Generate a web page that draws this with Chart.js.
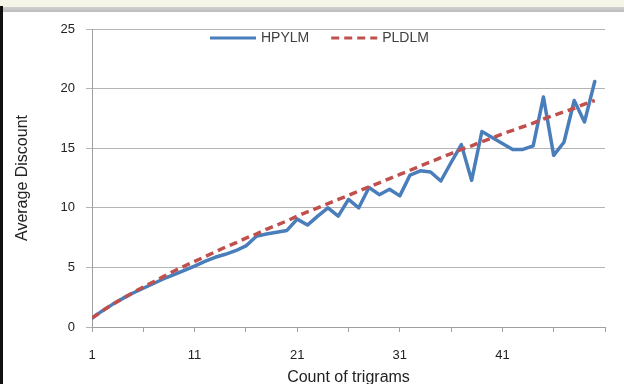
<!DOCTYPE html>
<html>
<head>
<meta charset="utf-8">
<script src="https://cdn.jsdelivr.net/npm/chart.js@4.4.1/dist/chart.umd.min.js"></script>
<style>
  html, body { margin: 0; padding: 0; background: #ffffff; }
  #wrap { position: relative; width: 624px; height: 384px; overflow: hidden; }
  #c { position: absolute; left: 0; top: 0; }
  #topband { position: absolute; left: 0; top: 0; width: 624px; height: 7px; background: #f6f6e8; }
  #topbar { position: absolute; left: 3px; top: 7px; width: 621px; height: 5px; background: linear-gradient(#d0d0d0, #bcbcbc); }
  #leftbar { position: absolute; left: 0; top: 6px; width: 3px; height: 378px; background: #111; }
</style>
</head>
<body>
<div id="wrap">
  <canvas id="c" width="624" height="384"></canvas>
  <div id="topband"></div>
  <div id="topbar"></div>
  <div id="leftbar"></div>
</div>
<script>
const categories = [1,2,3,4,5,6,7,8,9,10,11,12,13,14,15,16,17,18,19,20,21,22,23,24,25,26,27,28,29,30,31,32,33,34,35,36,37,38,39,40,41,42,43,44,45,46,47,48,49,50];
const hpylm = [0.75,1.35,1.9,2.4,2.85,3.25,3.65,4.05,4.4,4.75,5.1,5.5,5.85,6.1,6.4,6.8,7.6,7.8,7.95,8.1,9.05,8.55,9.3,10.0,9.3,10.7,10.0,11.7,11.1,11.55,11.0,12.75,13.1,13.0,12.25,13.8,15.3,12.3,16.4,15.9,15.4,14.9,14.9,15.2,19.3,14.4,15.5,19.0,17.2,20.6];
const pldlm = [0.75,1.35,1.9,2.4,2.9,3.35,3.8,4.25,4.7,5.1,5.5,5.9,6.3,6.7,7.05,7.45,7.8,8.2,8.55,8.9,9.3,9.65,10.0,10.35,10.7,11.05,11.4,11.75,12.1,12.45,12.8,13.15,13.5,13.85,14.2,14.55,14.9,15.2,15.55,15.85,16.2,16.5,16.8,17.1,17.45,17.75,18.05,18.35,18.7,19.0];
const seriesNames = ['HPYLM', 'PLDLM'];
const xTickMarks = [1,6,11,16,21,26,31,36,41,46,51];
const xTickLabels = ['1','11','21','31','41'];
const yTicks = [0,5,10,15,20,25];
const xTitle = 'Count of trigrams';
const yTitle = 'Average Discount';

Chart.defaults.font.family = "'Liberation Sans', Arial, sans-serif";
Chart.defaults.color = '#222';

const legendPlugin = {
  id: 'insideLegend',
  afterDraw(chart) {
    const ctx = chart.ctx;
    const y = 38;
    let x = 210;
    const sample = 46;
    ctx.save();
    ctx.font = "14px 'Liberation Sans', Arial, sans-serif";
    ctx.textBaseline = 'middle';
    ctx.textAlign = 'left';
    chart.data.datasets.forEach((ds) => {
      ctx.beginPath();
      ctx.strokeStyle = ds.borderColor;
      ctx.lineWidth = 3;
      ctx.setLineDash(ds.borderDash || []);
      ctx.lineCap = 'butt';
      ctx.moveTo(x, y);
      ctx.lineTo(x + sample, y);
      ctx.stroke();
      ctx.setLineDash([]);
      ctx.fillStyle = '#404040';
      ctx.fillText(ds.label, x + sample + 5, y);
      x += sample + 5 + ctx.measureText(ds.label).width + 22;
    });
    ctx.restore();
  }
};

new Chart(document.getElementById('c'), {
  type: 'line',
  data: {
    datasets: [
      {
        label: seriesNames[0],
        data: categories.map((c, i) => ({x: c, y: hpylm[i]})),
        borderColor: '#4a7ebb',
        backgroundColor: '#4a7ebb',
        borderWidth: 3.5,
        pointRadius: 0,
        tension: 0,
        order: 1,
        borderJoinStyle: 'round',
        borderCapStyle: 'round',
        fill: false
      },
      {
        label: seriesNames[1],
        data: categories.map((c, i) => ({x: c, y: pldlm[i]})),
        borderColor: '#c0504d',
        backgroundColor: '#c0504d',
        borderWidth: 3.5,
        borderDash: [8, 5],
        pointRadius: 0,
        tension: 0,
        order: 0,
        fill: false
      }
    ]
  },
  options: {
    responsive: false,
    animation: false,
    devicePixelRatio: 1,
    layout: { padding: { left: 0, top: 29, right: 19, bottom: 0 } },
    plugins: { legend: { display: false }, tooltip: { enabled: false } },
    scales: {
      x: {
        type: 'linear',
        min: 1,
        max: 51,
        afterBuildTicks: (axis) => { axis.ticks = xTickMarks.map(v => ({value: v})); },
        afterFit: (s) => { s.height = 57; },
        ticks: {
          autoSkip: false,
          maxRotation: 0,
          padding: 16,
          font: { size: 13 },
          color: '#222',
          callback: (v) => xTickLabels.includes(String(v)) ? String(v) : ''
        },
        grid: { drawOnChartArea: false, drawTicks: true, tickLength: 5, color: '#a0a0a0' },
        border: { color: '#a0a0a0', width: 1 },
        title: { display: true, text: xTitle, font: { size: 16 }, color: '#222', padding: { top: 0, bottom: -3 } }
      },
      y: {
        min: 0,
        max: 25,
        afterBuildTicks: (axis) => { axis.ticks = yTicks.map(v => ({value: v})); },
        afterFit: (s) => { s.width = 92; },
        ticks: { padding: 11, font: { size: 13 }, color: '#222' },
        grid: { color: '#b4b4b4', tickLength: 6, drawTicks: true },
        border: { color: '#a0a0a0', width: 1 },
        title: { display: true, text: yTitle, font: { size: 16 }, color: '#222', padding: { top: 13, bottom: 0 } }
      }
    }
  },
  plugins: [legendPlugin]
});
</script>
</body>
</html>
